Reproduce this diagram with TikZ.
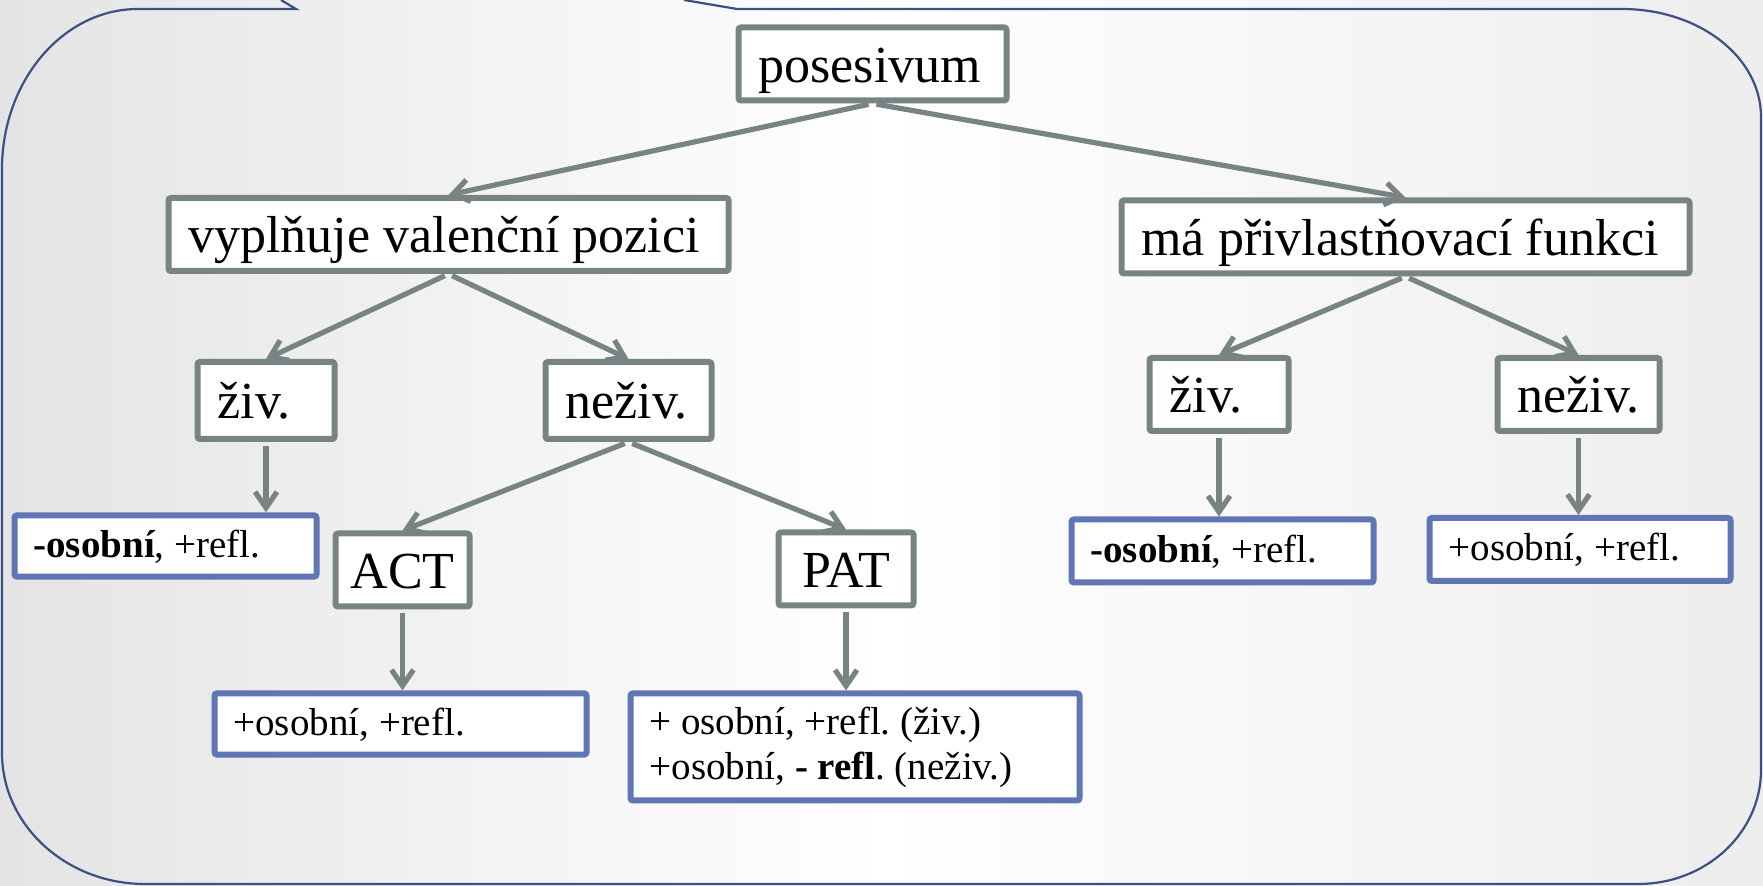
\documentclass[tikz,border=0pt]{standalone}
\usepackage{xcolor}
\usepackage{fontspec}
\setmainfont{Liberation Serif}
\usepackage{tikz}
\usetikzlibrary{arrows.meta}
\frenchspacing

\definecolor{boxgray}{HTML}{788484}
\definecolor{boxblue}{HTML}{6076B4}
\definecolor{frameblue}{HTML}{3E4F86}
\definecolor{bgleft}{HTML}{E4E4E4}
\definecolor{bgright}{HTML}{EDEDED}

\begin{document}
\begin{tikzpicture}[x=0.5pt,y=-0.5pt,>={Straight Barb[length=8pt,width=11pt]},
  gbox/.style={draw=boxgray,line width=3pt,rounded corners=1.2pt,fill=white,inner xsep=10pt,inner ysep=0pt,minimum height=36.5pt,align=flush left,font=\fontsize{26}{30}\selectfont,text height=23.4pt,text depth=5.2pt},
  bbox/.style={draw=boxblue,line width=3pt,rounded corners=1.2pt,fill=white,inner xsep=9.5pt,inner ysep=0pt,minimum height=30.6pt,align=flush left,font=\fontsize{19.5}{22.5}\selectfont},
  bline/.style={bbox,text height=16.6pt,text depth=5.1pt},
  arr/.style={->,draw=boxgray,line width=2.6pt,shorten <=2pt}]
\useasboundingbox (0,0) rectangle (1763,886);
\shade[left color=bgleft,right color=bgright,middle color=white] (0,0) rectangle (1763,886);
\draw[frameblue,line width=1.1pt] (281,0) -- (296,9) -- (138,9) .. controls (63,9) and (2,81) .. (2,169)
  -- (2,753) .. controls (2,825) and (66,884) .. (145,884) -- (1638,884)
  .. controls (1706,884) and (1761,833) .. (1761,770) -- (1761,117)
  .. controls (1761,57) and (1699,9) .. (1622,9) -- (737,9) -- (684,0);

\node[gbox,text width=114pt] (P) at (872.5,64) {posesivum};
\node[gbox,text width=260pt] (V) at (448.5,234.5) {vyplňuje valenční pozici};
\node[gbox,text width=264pt] (M) at (1405.5,237) {má přivlastňovací funkci};
\node[gbox,text width=48.5pt,minimum height=38.5pt] (VZ) at (266,400.5) {živ.};
\node[gbox,text width=63pt,minimum height=38.5pt] (VN) at (628.5,400.5) {neživ.};
\node[gbox,text width=49.5pt] (MZ) at (1219,394.5) {živ.};
\node[gbox,text width=61pt] (MN) at (1578.5,394.5) {neživ.};
\node[gbox,inner xsep=0pt,minimum width=67pt,align=center] (A) at (402.5,570) {ACT};
\node[gbox,inner xsep=0pt,minimum width=67.5pt,align=center] (T) at (846,569) {PAT};

\node[bline,text width=132pt] (VZo) at (165.5,546) {\textbf{-osobní}, +refl.};
\node[bline,text width=167pt] (Ao) at (400.5,724) {+osobní, +refl.};
\node[bbox,text width=205.5pt,minimum height=53.5pt] (To) at (855,747) {+ osobní, +refl. (živ.)\\+osobní, \textbf{- refl}. (neživ.)};
\node[bline,text width=132pt,minimum height=31.5pt] (MZo) at (1222.5,551) {\textbf{-osobní}, +refl.};
\node[bline,text width=131.5pt,minimum height=31.5pt] (MNo) at (1580,549.5) {+osobní, +refl.};

\path (P.south) edge[arr] (V.north);
\path (P.south) edge[arr] (M.north);
\path (V.south) edge[arr] (VZ.north);
\path (V.south) edge[arr] (VN.north);
\path (VN.south) edge[arr] (A.north);
\path (VN.south) edge[arr] (T.north);
\path (M.south) edge[arr] (MZ.north);
\path (M.south) edge[arr] (MN.north);

\path (VZ.south) edge[arr] (VZ.south |- VZo.north);
\path (A.south) edge[arr] (A.south |- Ao.north);
\path (T.south) edge[arr] (T.south |- To.north);
\path (MZ.south) edge[arr] (MZ.south |- MZo.north);
\path (MN.south) edge[arr] (MN.south |- MNo.north);

\end{tikzpicture}
\end{document}
